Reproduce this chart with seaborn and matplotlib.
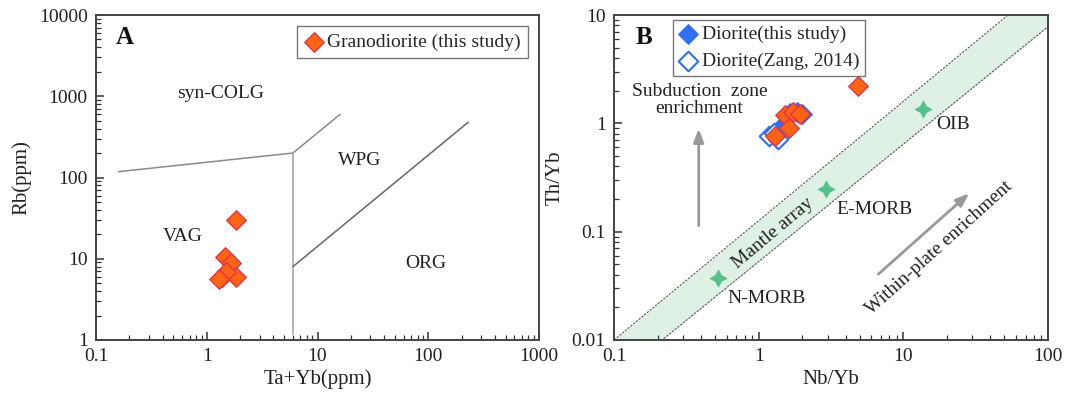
import numpy as np
import pandas as pd
import matplotlib
matplotlib.use("Agg")
import matplotlib.pyplot as plt
from matplotlib.ticker import LogLocator, FuncFormatter, NullFormatter
import seaborn as sns

sns.set_style("white")
plt.rcParams['font.family'] = ['Liberation Serif', 'DejaVu Serif']

# --- Panel A data: Rb vs Ta+Yb ---
grano_tayb = [1.85, 1.46, 1.65, 1.38, 1.82, 1.48, 1.30]
grano_rb = [30.0, 10.5, 8.8, 6.0, 5.9, 6.9, 5.6]

# boundary lines (Pearce et al., 1984)
colg_vag_x = [0.16, 6.0, 16.0]
colg_vag_y = [118, 200, 600]
vag_wpg_x = [6.0, 6.0]
vag_wpg_y = [200, 1.2]
wpg_org_x = [6.0, 230]
wpg_org_y = [8.0, 480]

# --- Panel B data: Th/Yb vs Nb/Yb ---
dio_this_nbyb = [1.25, 1.45, 1.65, 1.85, 2.0]
dio_this_thyb = [0.80, 0.95, 1.24, 1.26, 1.22]
dio_zang_nbyb = [1.18, 1.36, 1.28]
dio_zang_thyb = [0.76, 0.71, 0.82]
grano_b_nbyb = [1.30, 1.52, 1.72, 1.93, 1.63, 4.88]
grano_b_thyb = [0.77, 1.20, 1.28, 1.22, 0.90, 2.23]

array_up_x = [0.1, 53]
array_up_y = [0.01, 10]
array_lo_x = [0.215, 100]
array_lo_y = [0.01, 7.8]

ref_names = ['N-MORB', 'E-MORB', 'OIB']
ref_nbyb = [0.52, 2.9, 13.6]
ref_thyb = [0.0376, 0.246, 1.36]

orange = '#ff6414'
orange_edge = '#e0304a'
blue = '#2f6ff0'
star_green = '#55c08c'

fig = plt.figure(figsize=(10.70, 4.01), dpi=100)
axA = fig.add_axes([96 / 1070, 61 / 401, 443 / 1070, 325 / 401])
axB = fig.add_axes([614 / 1070, 61 / 401, 434 / 1070, 325 / 401])


def style_log_axes(ax):
    ax.set_xscale('log')
    ax.set_yscale('log')
    for s in ax.spines.values():
        s.set_color('#444444')
        s.set_linewidth(1.4)
    fmt = FuncFormatter(lambda v, p: '{:g}'.format(v))
    for axis in (ax.xaxis, ax.yaxis):
        axis.set_major_locator(LogLocator(base=10, numticks=20))
        axis.set_minor_locator(LogLocator(base=10, subs=np.arange(2, 10), numticks=20))
        axis.set_major_formatter(fmt)
        axis.set_minor_formatter(NullFormatter())
    ax.tick_params(which='both', bottom=True, left=True, top=False, right=False)
    ax.tick_params(which='major', direction='in', length=6, width=1.1, colors='#333333',
                   labelsize=14, pad=6, labelcolor='#222222')
    ax.tick_params(which='minor', direction='in', length=3.5, width=0.9, colors='#333333')


# ---------------- Panel A ----------------
style_log_axes(axA)
for xs, ys, c in [(colg_vag_x, colg_vag_y, '#8a8a8a'),
                  (vag_wpg_x, vag_wpg_y, '#a0a0a0'),
                  (wpg_org_x, wpg_org_y, '#666666')]:
    axA.plot(xs, ys, color=c, lw=1.1)

sns.scatterplot(x=grano_tayb, y=grano_rb, ax=axA, marker='D', s=100, color=orange,
                edgecolor=orange_edge, linewidth=0.9, zorder=5,
                label='Granodiorite (this study)')
axA.set_xlim(0.1, 1000)
axA.set_ylim(1, 10000)
axA.set_xlabel('Ta+Yb(ppm)', fontsize=15, color='#222222', labelpad=3)
axA.set_ylabel('Rb(ppm)', fontsize=15, color='#222222', labelpad=5)

for txt, x, y in [('syn-COLG', 1.33, 1090), ('WPG', 24, 164), ('VAG', 0.61, 18.7),
                  ('ORG', 96, 8.8)]:
    axA.text(x, y, txt, fontsize=14, ha='center', va='center', color='#222222')
axA.text(0.045, 0.93, 'A', transform=axA.transAxes, fontsize=18, fontweight='bold',
         ha='left', va='center', color='#111111')
legA = axA.legend(loc='upper right', bbox_to_anchor=(0.975, 0.965), fontsize=14,
                  frameon=True, fancybox=False, edgecolor='#555555', handletextpad=0.2,
                  borderpad=0.35, handlelength=1.0, borderaxespad=0)
legA.get_frame().set_linewidth(1.0)

# ---------------- Panel B ----------------
style_log_axes(axB)
up_slope = np.diff(np.log10(array_up_y)) / np.diff(np.log10(array_up_x))
lo_slope = np.diff(np.log10(array_lo_y)) / np.diff(np.log10(array_lo_x))
xx = np.logspace(-1, 2, 50)
up_y = array_up_y[0] * (xx / array_up_x[0]) ** up_slope[0]
lo_y = array_lo_y[0] * (xx / array_lo_x[0]) ** lo_slope[0]
axB.fill_between(xx, lo_y, up_y, color='#dff0e4', lw=0, zorder=0)
axB.plot(xx, up_y, color='#555555', lw=0.8, ls=(0, (2, 1.2)), zorder=1)
axB.plot(xx, lo_y, color='#555555', lw=0.8, ls=(0, (2, 1.2)), zorder=1)

sns.scatterplot(x=ref_nbyb, y=ref_thyb, ax=axB, marker=(4, 1, 0), s=150,
                color=star_green, edgecolor=star_green, linewidth=0.5, zorder=3)

sns.scatterplot(x=dio_this_nbyb, y=dio_this_thyb, ax=axB, marker='D', s=100, color=blue,
                edgecolor=blue, linewidth=0.9, zorder=4, label='Diorite(this study)')
axB.scatter(dio_zang_nbyb, dio_zang_thyb, marker='D', s=100, facecolor='white',
            edgecolor=blue, linewidth=1.5, zorder=4, label='Diorite(Zang, 2014)')
sns.scatterplot(x=grano_b_nbyb, y=grano_b_thyb, ax=axB, marker='D', s=100, color=orange,
                edgecolor=orange_edge, linewidth=0.9, zorder=5)

axB.set_xlim(0.1, 100)
axB.set_ylim(0.01, 10)
axB.set_xlabel('Nb/Yb', fontsize=15, color='#222222', labelpad=3)
axB.set_ylabel('Th/Yb', fontsize=15, color='#222222', labelpad=5)

axB.text(22.2, 0.97, 'OIB', fontsize=14, ha='center', va='center', color='#222222')
axB.text(6.3, 0.161, 'E-MORB', fontsize=14, ha='center', va='center', color='#222222')
axB.text(1.13, 0.0243, 'N-MORB', fontsize=14, ha='center', va='center', color='#222222')
axB.text(1.26, 0.0966, 'Mantle array', fontsize=14, ha='center', va='center',
         rotation=40, color='#222222')
axB.text(17.8, 0.0703, 'Within-plate enrichment', fontsize=14, ha='center', va='center',
         rotation=42, color='#222222')
axB.text(0.39, 1.64, 'Subduction  zone\nenrichment', fontsize=14, ha='center',
         va='center', linespacing=0.95, color='#222222')

axB.annotate('', xy=(0.385, 0.95), xytext=(0.385, 0.107),
             arrowprops=dict(arrowstyle='-|>,head_length=0.8,head_width=0.3',
                             color='#999999', lw=2))
axB.annotate('', xy=(29.5, 0.235), xytext=(6.5, 0.039),
             arrowprops=dict(arrowstyle='-|>,head_length=0.8,head_width=0.3',
                             color='#999999', lw=2))

axB.text(0.05, 0.93, 'B', transform=axB.transAxes, fontsize=18, fontweight='bold',
         ha='left', va='center', color='#111111')
legB = axB.legend(loc='upper left', bbox_to_anchor=(0.135, 0.985), fontsize=14,
                  frameon=True, fancybox=False, edgecolor='#555555', handletextpad=0.2,
                  borderpad=0.3, handlelength=1.0, borderaxespad=0, labelspacing=0.45)
legB.get_frame().set_linewidth(1.0)

fig.savefig('out.png', dpi=100, facecolor='white')
